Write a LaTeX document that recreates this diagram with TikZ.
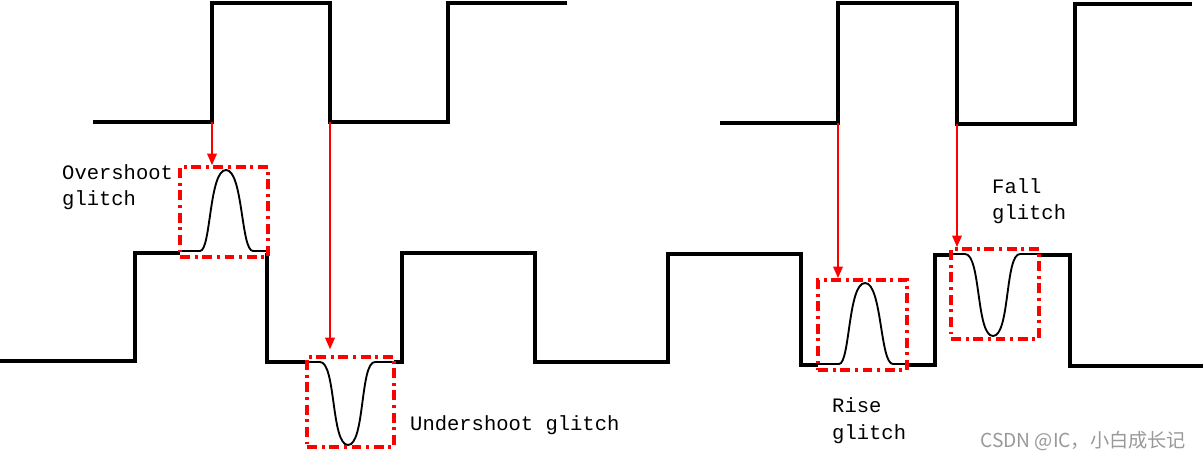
\documentclass[tikz,border=0pt]{standalone}
\usepackage{fontspec}
\setmonofont{Liberation Mono}
\newfontfamily\cjk{Noto Sans CJK SC}
\usetikzlibrary{arrows.meta}

\tikzset{
  wave/.style={draw=black,line width=2.6pt,line join=miter},
  glitchline/.style={draw=black,line width=1.6pt},
  glitchbox/.style={draw=red,line width=3pt,dash pattern=on 8.5pt off 4pt on 2.5pt off 4pt,inner sep=0pt},
  edgearrow/.style={draw=red,line width=2pt,-{Triangle[length=10pt,width=8pt]}},
  lbl/.style={font=\ttfamily\fontsize{17.5}{23}\selectfont,align=left,inner sep=0pt}
}

\begin{document}
\begin{tikzpicture}[x=0.03cm,y=-0.03cm]
\useasboundingbox (0,0) rectangle (1203,459);

% clock edges that cause the glitches
\coordinate (e1) at (212,122);
\coordinate (e2) at (330,122);
\coordinate (e3) at (838,123);
\coordinate (e4) at (957,124);

% upper signals
\draw[wave] (93,122) -- (212,122) -- (212,3) -- (330,3) -- (330,122) -- (448,122) -- (448,3) -- (567,3);
\draw[wave] (720,123) -- (838,123) -- (838,3) -- (957,3) -- (957,124) -- (1075,124) -- (1075,4) -- (1192,4);

% lower signal
\draw[wave] (0,361) -- (135,361) -- (135,253) -- (180,253);
\draw[wave] (267,253) -- (267,362) -- (307,362);
\draw[wave] (394,362) -- (402,362) -- (402,253) -- (535,253) -- (535,362) -- (668,362) -- (668,254) -- (801,254) -- (801,365) -- (818,365);
\draw[wave] (907,365) -- (935,365) -- (935,255) -- (951,255);
\draw[wave] (1039,255) -- (1070,255) -- (1070,366) -- (1203,366);

% glitches
\draw[glitchline] (180,251) -- (200,251) .. controls (211,251) and (209,170) .. (226,170) .. controls (243,170) and (241,251) .. (253,251) -- (268,251);
\draw[glitchline] (307,362) -- (320,362) .. controls (336,362) and (331,445) .. (348,445) .. controls (365,445) and (360,362) .. (375,362) -- (394,362);
\draw[glitchline] (818,364) -- (839,364) .. controls (850,364) and (848,283) .. (865,283) .. controls (882,283) and (880,364) .. (893,364) -- (907,364);
\draw[glitchline] (951,254) -- (965,254) .. controls (981,254) and (976,336) .. (993,336) .. controls (1010,336) and (1005,254) .. (1020,254) -- (1039,254);

% boxes
\node[glitchbox,minimum width=2.64cm,minimum height=2.7cm] (ovbox) at (224,212) {};
\node[glitchbox,minimum width=2.61cm,minimum height=2.7cm] (unbox) at (350.5,402) {};
\node[glitchbox,minimum width=2.67cm,minimum height=2.7cm] (risebox) at (862.5,325) {};
\node[glitchbox,minimum width=2.64cm,minimum height=2.7cm] (fallbox) at (995,294) {};

% arrows
\draw[edgearrow] (e1) -- (ovbox.north -| e1);
\draw[edgearrow] (e2) -- ([yshift=5pt]unbox.north -| e2);
\draw[edgearrow] (e3) -- (risebox.north -| e3);
\draw[edgearrow] (e4) -- (fallbox.north -| e4);

% labels (base = last line)
\node[lbl,anchor=base west] (ovtxt) at (62,206) {Overshoot\\glitch};
\node[lbl,anchor=base west] (untxt) at (410,430) {Undershoot glitch};
\node[lbl,anchor=base west] (risetxt) at (832,439) {Rise\\glitch};
\node[lbl,anchor=base west] (falltxt) at (992,220) {Fall\\glitch};

\node[anchor=base west,inner sep=0pt,text=black!40,font=\cjk\fontsize{16.4}{18}\selectfont] (mark) at (980,447) {CSDN @IC，小白成长记};
\end{tikzpicture}
\end{document}
